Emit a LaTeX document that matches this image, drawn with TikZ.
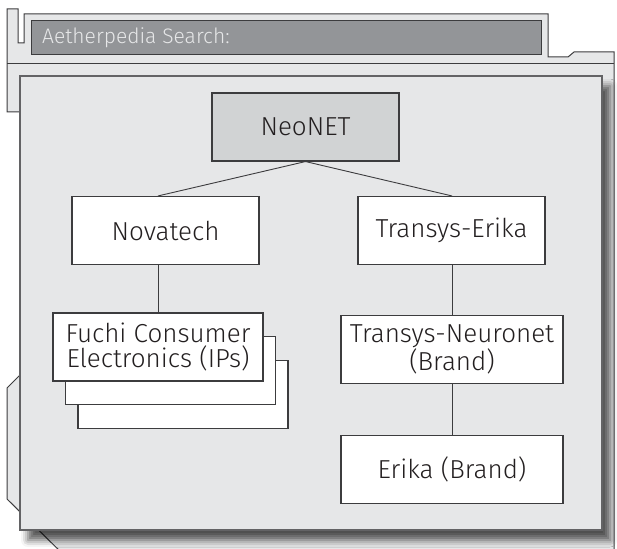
\documentclass[tikz,border=0pt]{standalone}
\usepackage{fontspec}
\setmainfont{Fira Sans Light}
\usetikzlibrary{positioning, shadows.blur}

\definecolor{framegray}{HTML}{E6E7E8}
\definecolor{bargray}{HTML}{939598}
\definecolor{neogray}{HTML}{D1D3D4}
\definecolor{linedark}{HTML}{3C3C3E}
\definecolor{textdark}{HTML}{231F20}

\begin{document}
\begin{tikzpicture}[x=1pt, y=-1pt,
	box/.style={draw=linedark, line width=1.1pt, fill=white, minimum width=187pt, minimum height=68pt,
		inner sep=0pt, align=center, text=textdark, font=\fontsize{26}{25}\selectfont},
	wire/.style={draw=linedark, line width=0.9pt}]
	\useasboundingbox (0,0) rectangle (617,548);
	\clip (0,0) rectangle (617,548);
	% outer frame with its notches
	\draw[fill=framegray, draw=linedark, line width=1pt] (7,9) -- (18,9) -- (18,43) -- (24,43) -- (24,14)
		-- (548,14) -- (548,57) -- (568,57) -- (574,52) -- (614,52) -- (614,560) -- (69,560)
		-- (7,499) -- (7,388) -- (25,370) -- (25,112) -- (7,112) -- cycle;
	\draw[linedark, line width=1pt] (7,64) -- (614,64);
	\draw[fill=bargray, draw=linedark, line width=1pt] (31,21) rectangle (541,55);
	\node[anchor=west, text=framegray, font=\fontsize{21}{21}\selectfont, inner sep=0pt] (search) at (42,38) {Aetherpedia Search:};
	% inner panel
	\draw[fill=framegray, draw=linedark!80, line width=1.3pt,
		blur shadow={shadow xshift=8pt, shadow yshift=-10pt, shadow blur radius=7pt, shadow opacity=65}]
		(20,76) rectangle (602,530);

	\node[box, fill=neogray] (neonet) at (305.5,127) {NeoNET};
	\node[box] (novatech) at (165.5,230.5) {Novatech};
	\node[box] (transerika) at (451.5,230.5) {Transys-Erika};
	\foreach \i in {2,1}
		\node[box, minimum width=210pt] (fuchi\i) at (158+12.5*\i, 347+23.7*\i) {};
	\node[box, minimum width=210pt] (fuchi) at (158,347) {Fuchi Consumer\\Electronics (IPs)};
	\node[box, minimum width=222pt] (neuronet) at (452,349.5) {Transys-Neuronet\\(Brand)};
	\node[box, minimum width=222pt, below=51pt of neuronet] (erika) {Erika (Brand)};

	\draw[wire] (neonet.south) -- (novatech.north -| fuchi.north);
	\draw[wire] (neonet.south) -- (transerika.north -| neuronet.north);
	\draw[wire] (novatech.south -| fuchi.north) -- (fuchi.north);
	\draw[wire] (transerika.south -| neuronet.north) -- (neuronet.north);
	\draw[wire] (neuronet) -- (erika);
\end{tikzpicture}
\end{document}
